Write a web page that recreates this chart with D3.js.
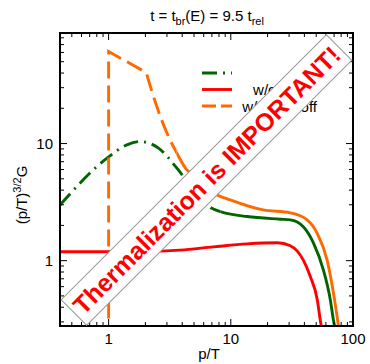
<!DOCTYPE html>
<html><head><meta charset="utf-8">
<script src="https://cdn.jsdelivr.net/npm/d3@7"></script>
<style>body{margin:0;background:#fff}svg{display:block}text{font-family:"Liberation Sans",Arial,sans-serif}</style>
</head><body>
<script>
// ---- data ----
const redP    = [0.4, 1, 2.2, 3.85, 7.2, 13.6, 24, 30.7, 39.2, 44.8, 51.1, 54, 56];
const redV    = [1.19, 1.19, 1.2, 1.23, 1.31, 1.39, 1.42, 1.34, 1.01, 0.73, 0.46, 0.31, 0.25];
const greenP  = [0.4, 1, 1.41, 1.81, 2.56, 3.62, 4.1, 7.0, 8.2, 13.6, 25.4, 30.7, 39.2, 47.4, 57.3, 65.3, 69.2, 72];
const greenV  = [2.99, 7.7, 9.75, 10.4, 9.14, 6.16, 5.22, 2.8, 2.62, 2.38, 2.26, 2.23, 1.95, 1.42, 0.83, 0.46, 0.31, 0.25];
const orangeP = [1, 1, 2.03, 2.48, 3.0, 3.62, 4.37, 4.65, 7.18, 9.9, 18.4, 30.7, 42.1, 50.8, 61.4, 69.2, 74.2, 77];
const orangeV = [0.2, 61, 40.4, 20.7, 12.3, 8.28, 5.96, 5.62, 3.79, 3.30, 2.71, 2.56, 2.23, 1.72, 1.01, 0.53, 0.33, 0.25];
// where the dense part of the curve starts (drawn solid beyond this p/T)
const greenSolidFrom = 8.2;
const orangeSolidFrom = 3.6;
const xTicks = [1, 10, 100];
const xTickLabels = ["1", "10", "100"];
const yTicks = [1, 10];
const yTickLabels = ["1", "10"];
const xMinor = [0.5,0.6,0.7,0.8,0.9,2,3,4,5,6,7,8,9,20,30,40,50,60,70,80,90];
const yMinor = [0.3,0.4,0.5,0.6,0.7,0.8,0.9,2,3,4,5,6,7,8,9,20,30,40,50,60,70,80];
const legendLabels = ["full", "w/o cutoff", "w/ IR cutoff"];
const bannerText = "Thermalization is IMPORTANT!";

const W = 370, H = 364;
const L = 60, R = 353, T = 33, B = 326;
const svg = d3.select("body").append("svg").attr("width", W).attr("height", H);
const x = d3.scaleLog().domain([0.4, 100]).range([L, R]);
const y = d3.scaleLog().domain([Math.pow(10, -0.558), Math.pow(10, 1.944)]).range([B, T]);

const defs = svg.append("defs");
function clip(id, x0, x1) {
  defs.append("clipPath").attr("id", id).append("rect")
    .attr("x", x0).attr("y", T).attr("width", x1 - x0).attr("height", B - T);
}
clip("clip", L, R);
clip("gDash", L, x(greenSolidFrom));
clip("gSolid", x(greenSolidFrom), R);
clip("oDash", L, x(orangeSolidFrom));
clip("oSolid", x(orangeSolidFrom), R);

const colors = { green: "#006400", red: "#ff0000", orange: "#ff6a00" };
const SW = 2.9;
const line = d3.line().x(d => x(d[0])).y(d => y(d[1])).curve(d3.curveMonotoneX);
const zip = (a, b) => a.map((v, i) => [v, b[i]]);

// red solid
svg.append("path").attr("clip-path", "url(#clip)").attr("d", line(zip(redP, redV)))
  .attr("fill", "none").attr("stroke", colors.red).attr("stroke-width", SW);
// green dash-dot, then solid
const gd = line(zip(greenP, greenV));
svg.append("path").attr("clip-path", "url(#gDash)").attr("d", gd)
  .attr("fill", "none").attr("stroke", colors.green).attr("stroke-width", SW)
  .attr("stroke-dasharray", "15,6,2,6");
svg.append("path").attr("clip-path", "url(#gSolid)").attr("d", gd)
  .attr("fill", "none").attr("stroke", colors.green).attr("stroke-width", SW);
// orange dashed: vertical + first segment linear, rest smooth
const op = zip(orangeP, orangeV);
const od = `M${x(op[0][0])},${y(op[0][1])}L${x(op[1][0])},${y(op[1][1])}` + line(op.slice(2)).replace(/^M/, "L");
svg.append("path").attr("clip-path", "url(#oDash)").attr("d", od)
  .attr("fill", "none").attr("stroke", colors.orange).attr("stroke-width", SW)
  .attr("stroke-dasharray", "17,7");
svg.append("path").attr("clip-path", "url(#oSolid)").attr("d", od)
  .attr("fill", "none").attr("stroke", colors.orange).attr("stroke-width", SW);

// frame and ticks
const ax = svg.append("g").attr("stroke", "#000").attr("stroke-width", 1);
function xt(v, len) {
  ax.append("line").attr("x1", x(v)).attr("x2", x(v)).attr("y1", B).attr("y2", B - len);
  ax.append("line").attr("x1", x(v)).attr("x2", x(v)).attr("y1", T).attr("y2", T + len);
}
function yt(v, len) {
  ax.append("line").attr("y1", y(v)).attr("y2", y(v)).attr("x1", L).attr("x2", L + len);
  ax.append("line").attr("y1", y(v)).attr("y2", y(v)).attr("x1", R).attr("x2", R - len);
}
xTicks.forEach(v => xt(v, 7)); xMinor.forEach(v => xt(v, 4));
yTicks.forEach(v => yt(v, 7)); yMinor.forEach(v => yt(v, 4));
svg.append("rect").attr("x", L).attr("y", T).attr("width", R - L).attr("height", B - T)
  .attr("fill", "none").attr("stroke", "#000").attr("stroke-width", 2);

// tick labels
xTicks.forEach((v, i) => svg.append("text").attr("x", x(v)).attr("y", 344)
  .attr("text-anchor", "middle").attr("font-size", 15).text(xTickLabels[i]));
yTicks.forEach((v, i) => svg.append("text").attr("x", 53).attr("y", y(v) + 5.5)
  .attr("text-anchor", "end").attr("font-size", 15).text(yTickLabels[i]));

// title
const title = svg.append("text").attr("x", 207).attr("y", 21).attr("text-anchor", "middle").attr("font-size", 15);
title.append("tspan").text("t = t");
title.append("tspan").attr("font-size", 11).attr("dy", 4).text("br");
title.append("tspan").attr("dy", -4).text("(E) = 9.5 t");
title.append("tspan").attr("font-size", 11).attr("dy", 4).text("rel");

// axis labels
svg.append("text").attr("x", 209).attr("y", 359).attr("text-anchor", "middle").attr("font-size", 15).text("p/T");
const yl = svg.append("text").attr("transform", "translate(27,195) rotate(-90)")
  .attr("text-anchor", "middle").attr("font-size", 15);
yl.append("tspan").text("(p/T)");
yl.append("tspan").attr("font-size", 11).attr("dy", -6).text("3/2");
yl.append("tspan").attr("dy", 6).text("G");

// legend
const legRows = [73, 89.5, 106];
const legStyles = [
  { c: colors.green, d: "15,6,2,6" },
  { c: colors.red, d: null },
  { c: colors.orange, d: "14,5" }
];
legRows.forEach((ry, i) => {
  const ln = svg.append("line").attr("x1", 202).attr("x2", 232).attr("y1", ry).attr("y2", ry)
    .attr("stroke", legStyles[i].c).attr("stroke-width", SW);
  if (legStyles[i].d) ln.attr("stroke-dasharray", legStyles[i].d);
  svg.append("text").attr("x", 317).attr("y", ry + 5.5).attr("text-anchor", "end")
    .attr("font-size", 15).text(legendLabels[i]);
});

// banner
const bn = svg.append("g").attr("transform", "translate(206.5,180) rotate(-45)");
bn.append("rect").attr("x", -187.5).attr("y", -18).attr("width", 375).attr("height", 36)
  .attr("fill", "#fff").attr("stroke", "#999").attr("stroke-width", 1);
bn.append("text").attr("x", 0).attr("y", 9).attr("text-anchor", "middle")
  .attr("font-size", 25).attr("font-weight", "bold").attr("fill", "#ff0000").text(bannerText);
</script>
</body></html>
